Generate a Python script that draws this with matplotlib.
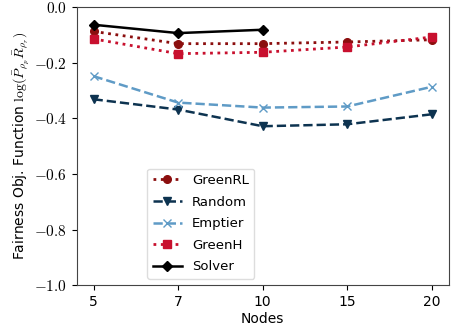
import matplotlib
matplotlib.use("Agg")
import matplotlib.pyplot as plt
from matplotlib.ticker import FuncFormatter

plt.rcParams['mathtext.fontset'] = 'cm'
plt.rcParams['font.family'] = ['DejaVu Sans']

nodes = ["5", "7", "10", "15", "20"]
greenrl = [-0.087, -0.131, -0.131, -0.125, -0.117]
random_ = [-0.331, -0.368, -0.428, -0.421, -0.385]
emptier = [-0.248, -0.343, -0.361, -0.357, -0.286]
greenh = [-0.114, -0.167, -0.162, -0.143, -0.107]
solver_nodes = ["5", "7", "10"]
solver = [-0.063, -0.093, -0.081]

fig, ax = plt.subplots(figsize=(4.51, 3.29), dpi=100)
pos = list(range(len(nodes)))
ax.plot(pos, greenrl, linestyle=':', marker='o', color='#8b0e0e', lw=2, ms=5.5, label='GreenRL')
ax.plot(pos, random_, linestyle='--', marker='v', color='#0d3350', lw=1.8, ms=5.5, label='Random')
ax.plot(pos, emptier, linestyle='--', marker='x', color='#5f9bc6', lw=1.8, ms=5.5, label='Emptier')
ax.plot(pos, greenh, linestyle=':', marker='s', color='#c8102e', lw=2, ms=5.5, label='GreenH')
ax.plot([nodes.index(n) for n in solver_nodes], solver, linestyle='-', marker='D', color='black', lw=1.8, ms=5.5, label='Solver')

ax.set_xticks(pos)
ax.set_xticklabels(nodes)
ax.set_ylim(-1.0, 0.0)
ax.set_yticks([0.0, -0.2, -0.4, -0.6, -0.8, -1.0])
ax.yaxis.set_major_formatter(FuncFormatter(lambda v, p: f"${v:.1f}$"))
ax.tick_params(axis='x', labelsize=10)
ax.tick_params(axis='y', labelsize=11)
ax.set_xlabel("Nodes", fontsize=10, labelpad=2)
ax.set_ylabel(r"Fairness Obj. Function $\log(\bar{P}_{\rho_p}\bar{R}_{\rho_r})$", fontsize=10, labelpad=2)
for s in ax.spines.values():
    s.set_color('#444444')
ax.legend(loc='lower left', bbox_to_anchor=(0.172, 0.0), fontsize=9.5, handlelength=2.2,
          labelspacing=0.65, framealpha=1, edgecolor='#dddddd')
fig.subplots_adjust(left=0.17, right=0.995, top=0.978, bottom=0.133)
fig.savefig("out.png", dpi=100)
